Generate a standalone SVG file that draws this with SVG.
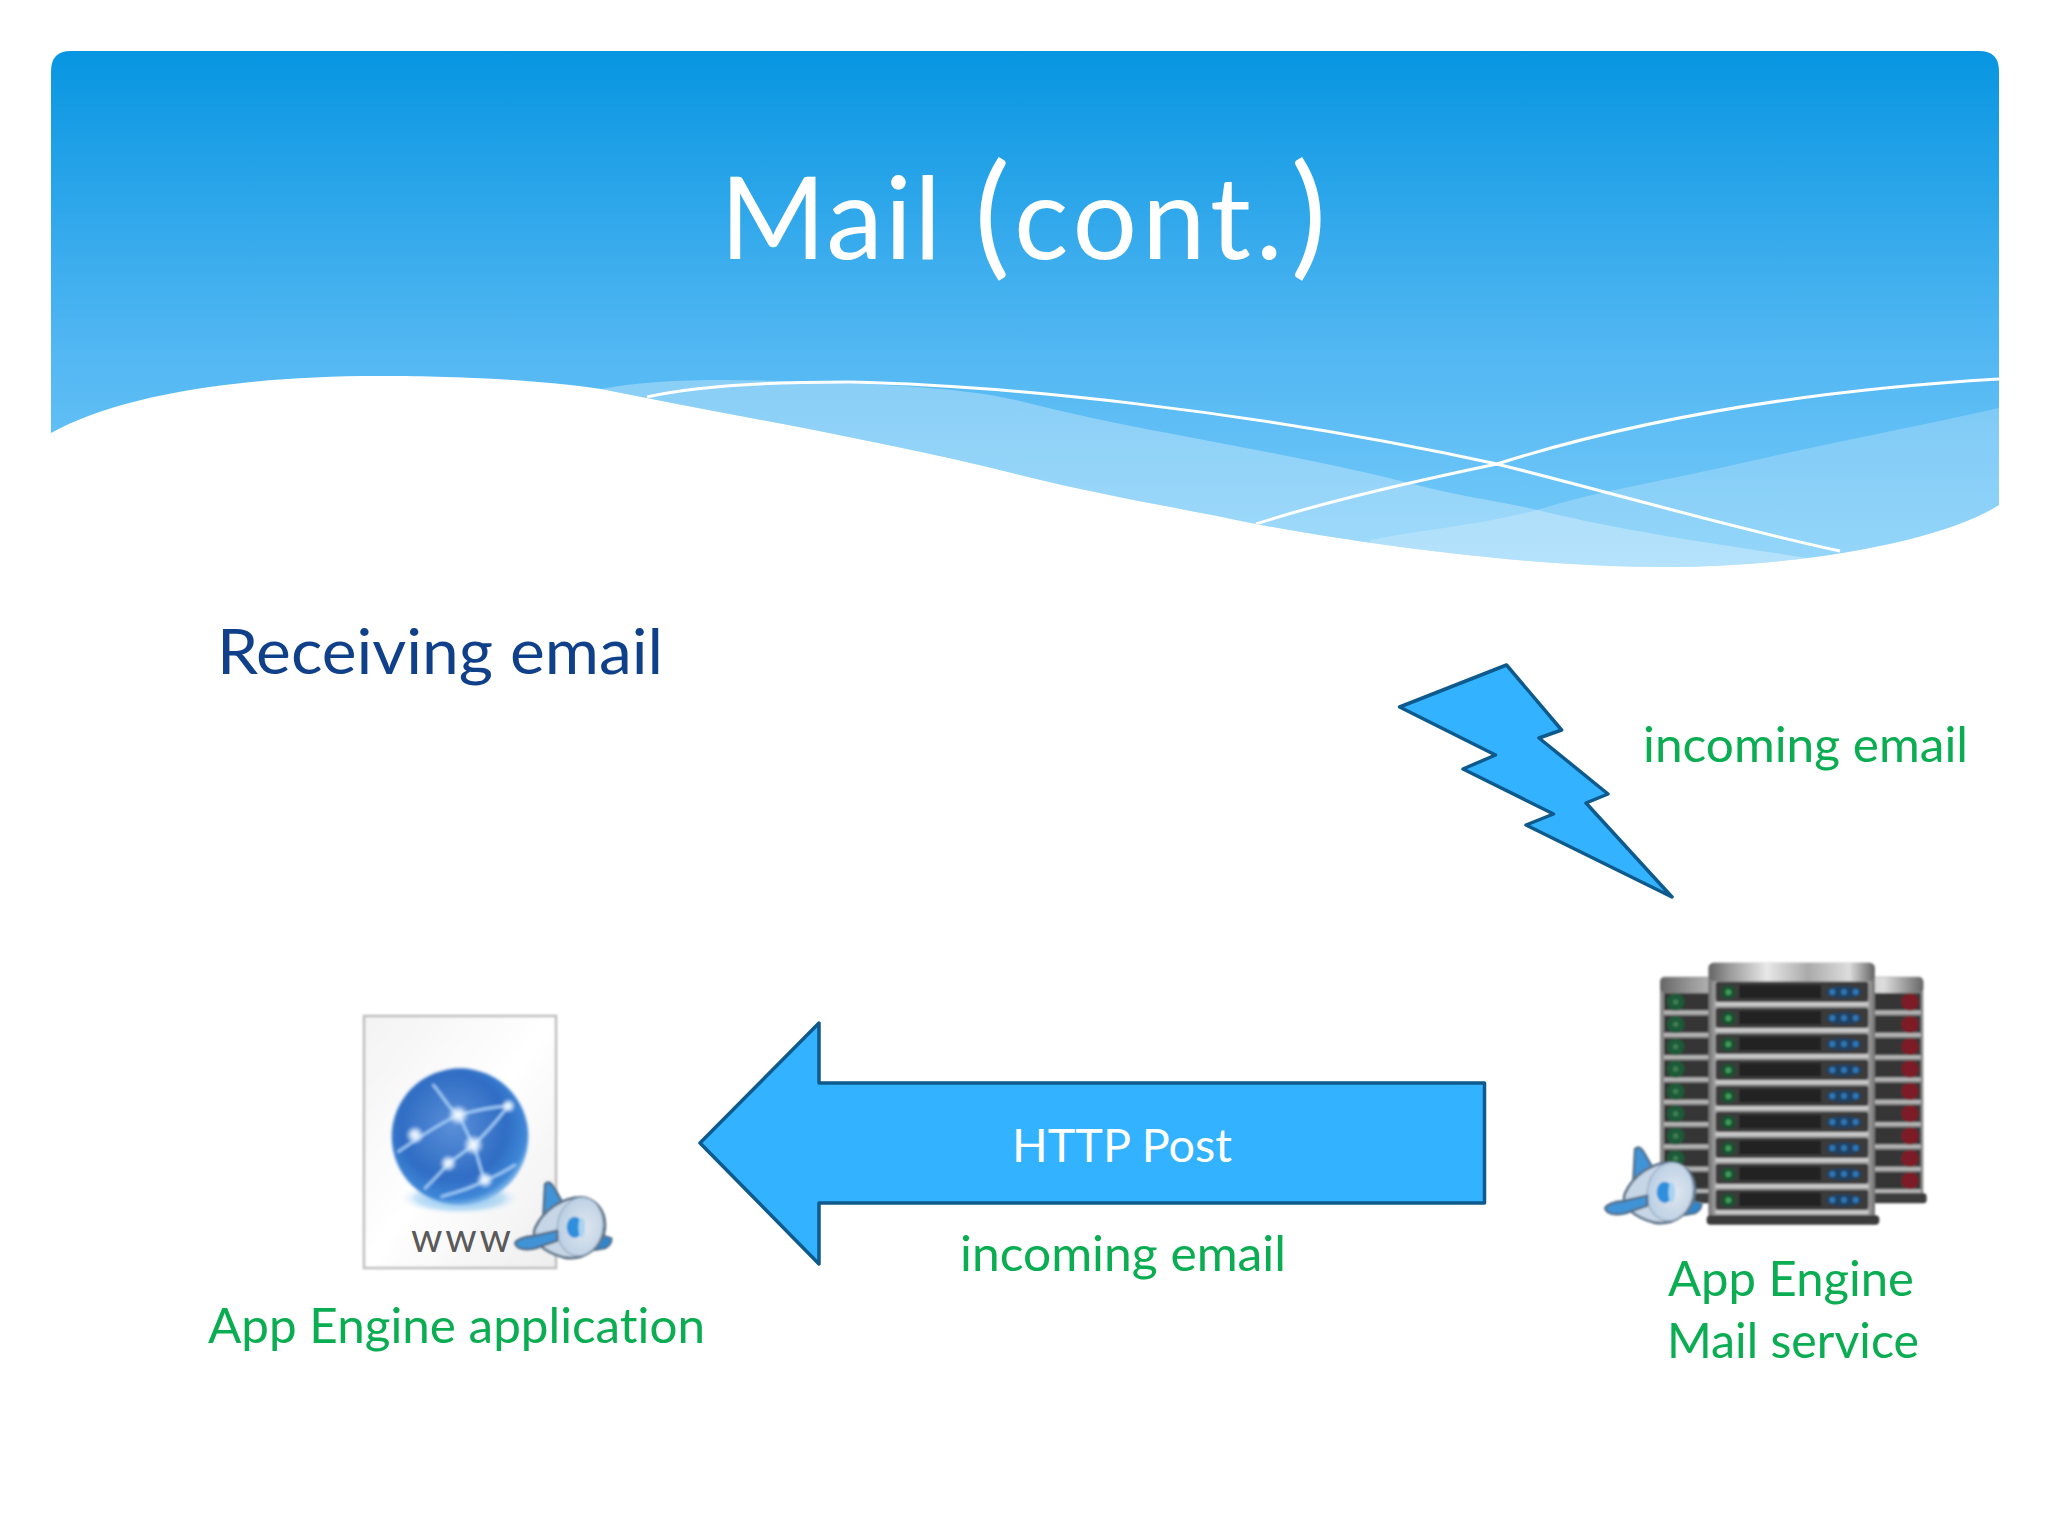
<svg xmlns="http://www.w3.org/2000/svg" xmlns:xlink="http://www.w3.org/1999/xlink" width="2048" height="1536" viewBox="0 0 2048 1536">
<style>
text{font-family:Lato,"Open Sans","Liberation Sans",sans-serif;font-variant-ligatures:none}
.g{fill:#0bad52;font-size:49px}
.shape{fill:#33b3ff;stroke:#0e5a8c;stroke-width:3.5;stroke-linejoin:round}
.wave{fill:none;stroke:#fff;stroke-width:3}
.led-b{fill:#2f78b8}
</style>
<defs>
<linearGradient id="sky" gradientUnits="userSpaceOnUse" x1="0" y1="51" x2="0" y2="570">
<stop offset="0" stop-color="#0795e1"/><stop offset=".56" stop-color="#50b6f2"/><stop offset="1" stop-color="#78cbf9"/>
</linearGradient>
<linearGradient id="metal" x1="0" y1="0" x2="1" y2="0">
<stop offset="0" stop-color="#666"/><stop offset=".12" stop-color="#999"/><stop offset=".35" stop-color="#e8e8e8"/><stop offset=".6" stop-color="#aaa"/><stop offset=".85" stop-color="#ddd"/><stop offset="1" stop-color="#666"/>
</linearGradient>
<linearGradient id="frame" x1="0" y1="0" x2="1" y2="0">
<stop offset="0" stop-color="#6f6f6f"/><stop offset=".04" stop-color="#a0a0a0"/><stop offset=".96" stop-color="#a0a0a0"/><stop offset="1" stop-color="#6f6f6f"/>
</linearGradient>
<linearGradient id="paper" x1="0" y1="0" x2="1" y2="1">
<stop offset="0" stop-color="#f3f3f3"/><stop offset=".5" stop-color="#fff"/><stop offset="1" stop-color="#eee"/>
</linearGradient>
<radialGradient id="globe" cx=".45" cy=".42" r=".6">
<stop offset="0" stop-color="#5a8fd8"/><stop offset=".65" stop-color="#2f6dc4"/><stop offset=".9" stop-color="#3f88d8"/><stop offset="1" stop-color="#8fc3ee"/>
</radialGradient>
<radialGradient id="spark"><stop offset="0" stop-color="#fff"/><stop offset=".45" stop-color="#e6f4ff" stop-opacity=".8"/><stop offset="1" stop-color="#cfe8ff" stop-opacity="0"/></radialGradient>
<radialGradient id="reflect"><stop offset="0" stop-color="#6db8ee"/><stop offset=".7" stop-color="#a5d2f3" stop-opacity=".7"/><stop offset="1" stop-color="#fff" stop-opacity="0"/></radialGradient>
<radialGradient id="engine" cx=".6" cy=".5" r=".6"><stop offset="0" stop-color="#dfe6ee"/><stop offset="1" stop-color="#b9cfe4"/></radialGradient>
<filter id="soft" x="-5%" y="-5%" width="110%" height="110%"><feGaussianBlur stdDeviation="1"/></filter>
<filter id="local" x="-5%" y="-5%" width="110%" height="110%"><feGaussianBlur stdDeviation="3.2"/></filter>
<filter id="globeBlur" x="-5%" y="-5%" width="110%" height="110%"><feGaussianBlur stdDeviation="5"/></filter>
<clipPath id="panel"><path id="panelShape" d="M51 71Q51 51 71 51H1979Q1999 51 1999 71V505C1940 542 1800 567 1664 567C1530 567 1370 545 1256 524C1180 508 1100 495 1024 476C880 440 740 417 601 389C530 378 430 376 379 376C240 376 120 395 51 433Z"/></clipPath>
<g id="plane">
<path d="M735 612Q748 600 760 620L788 668L730 705Z" fill="#3f93d6" stroke="#54708a" stroke-width="7" stroke-linejoin="round"/>
<path d="M905 765L935 775Q935 795 915 805L885 810Z" fill="#2f86cc" stroke="#54708a" stroke-width="6" stroke-linejoin="round"/>
<path d="M845 652C790 650 730 690 705 745C690 780 730 815 790 832C850 845 915 800 915 735C915 690 885 655 845 652Z" fill="#c6d6e6" stroke="#5f748a" stroke-width="8"/>
<ellipse cx="840" cy="740" rx="68" ry="88" fill="url(#engine)" stroke="#8fa3b8" stroke-width="3" transform="rotate(10 840 740)"/>
<ellipse cx="824" cy="742" rx="24" ry="32" fill="#2f8fdc"/>
<ellipse cx="845" cy="742" rx="10" ry="30" fill="#a8d3f2"/>
<path d="M645 790Q655 772 700 768L772 752L772 782L705 805Q655 815 645 790Z" fill="#3f93d6" stroke="#54708a" stroke-width="7" stroke-linejoin="round"/>
</g>
<g id="frontRow">
<rect x="407" y="0" width="458" height="60" rx="8" fill="#3a3a3a"/>
<rect x="478" y="10" width="245" height="40" fill="#242424"/>
<circle cx="445" cy="32" r="22" fill="#1c4f30"/><circle cx="445" cy="32" r="9" fill="#3f9a5a"/>
<ellipse cx="792" cy="32" rx="52" ry="19" fill="#23415f"/>
<circle cx="757" cy="31" r="9" class="led-b"/><circle cx="792" cy="31" r="9" class="led-b"/><circle cx="827" cy="31" r="9" class="led-b"/>
<rect x="407" y="63" width="458" height="9" fill="#cfcfcf"/>
</g>
<g id="backRow">
<rect x="252" y="0" width="770" height="50" fill="#353535"/>
<circle cx="287" cy="26" r="26" fill="#1f5a38"/><circle cx="287" cy="26" r="8" fill="#3f7f55"/>
<circle cx="990" cy="26" r="26" fill="#7d1a28"/>
<rect x="252" y="54" width="770" height="7" fill="#bdbdbd"/>
</g>
</defs>
<rect width="2048" height="1536" fill="#fff"/>

<g id="header">
<use xlink:href="#panelShape" href="#panelShape" fill="url(#sky)"/>
<g clip-path="url(#panel)">
<path d="M601 389C650 379 720 379 780 381C870 384 960 386 1024 402C1150 434 1280 450 1409 483C1460 497 1500 501 1537 510C1640 535 1730 545 1830 562L1830 600L601 600Z" fill="#fff" fill-opacity=".3"/>
<path d="M1999 408C1900 430 1820 445 1742 463C1670 480 1600 490 1537 510C1480 525 1420 530 1370 540L1370 600L1999 600Z" fill="#fff" fill-opacity=".22"/>
<path class="wave" d="M647 397C700 385 780 382 849 382C1000 385 1250 410 1497 464C1620 495 1740 530 1840 551"/>
<path class="wave" d="M1256 524C1330 500 1420 480 1497 464C1620 425 1780 392 1999 379"/>
</g>
<text x="720" y="259" font-size="114" fill="#fff" letter-spacing="2">Mail <tspan font-size="134" dy="2">(</tspan><tspan dy="-2" dx="2" letter-spacing="5">cont.</tspan><tspan font-size="134" dy="2" dx="3">)</tspan></text>
</g>

<text id="subtitle" x="217" y="674" font-size="61" fill="#0f4089" textLength="446" lengthAdjust="spacingAndGlyphs">Receiving email</text>

<g id="connectors">
<polygon class="shape" points="1506.5,665 1561.6,730 1539,738 1608,794 1586,803 1672,897 1526,825 1553.5,814 1463,769 1495.5,755 1399.6,707"/>
<polygon class="shape" points="700,1143 819,1023 819,1083 1484.5,1083 1484.5,1203 819,1203 819,1264"/>
<text x="1012" y="1162" font-size="46" fill="#fff" textLength="220" lengthAdjust="spacingAndGlyphs">HTTP Post</text>
<text class="g" x="1643" y="762" textLength="325" lengthAdjust="spacingAndGlyphs">incoming email</text>
<text class="g" x="960" y="1271" textLength="326" lengthAdjust="spacingAndGlyphs">incoming email</text>
</g>

<g id="app-node">
<rect x="364" y="1016" width="192" height="252" fill="url(#paper)" stroke="#bdbdbd" stroke-width="2.5" filter="url(#soft)"/>
<g transform="translate(300 980) scale(.33333)">
<g filter="url(#globeBlur)">
<ellipse cx="480" cy="655" rx="185" ry="50" fill="url(#reflect)"/>
<circle cx="480" cy="470" r="205" fill="url(#globe)"/>
<path d="M295 515C360 470 420 430 475 405C550 385 590 380 625 378M400 315C430 350 450 390 475 405C495 440 505 470 520 495C570 450 600 410 625 378M520 495C535 530 540 570 555 600M375 625C410 590 430 570 445 550C480 525 500 510 520 495M425 650C470 635 520 625 555 600C590 590 620 570 645 555" fill="none" stroke="#a8d4fb" stroke-width="7" stroke-linecap="round"/>
<circle cx="475" cy="405" r="32" fill="url(#spark)"/><circle cx="345" cy="465" r="28" fill="url(#spark)"/>
<circle cx="520" cy="495" r="32" fill="url(#spark)"/><circle cx="445" cy="550" r="26" fill="url(#spark)"/>
<circle cx="555" cy="600" r="26" fill="url(#spark)"/><circle cx="625" cy="378" r="22" fill="url(#spark)"/>
</g>
</g>
<text x="411" y="1252" font-size="40" fill="#5a5a5a" textLength="100" lengthAdjust="spacing">www</text>
<use xlink:href="#plane" href="#plane" transform="translate(300 980) scale(.33333)" filter="url(#local)"/>
<text class="g" x="208" y="1343" textLength="497" lengthAdjust="spacingAndGlyphs">App Engine application</text>
</g>

<g id="mail-node">
<g transform="translate(1580 940) scale(.33333)" filter="url(#local)">
<rect x="240" y="110" width="790" height="670" rx="14" fill="#8a8a8a"/>
<rect x="240" y="112" width="790" height="46" rx="14" fill="url(#metal)"/>
<use xlink:href="#backRow" href="#backRow" y="160"/><use xlink:href="#backRow" href="#backRow" y="227"/><use xlink:href="#backRow" href="#backRow" y="294"/>
<use xlink:href="#backRow" href="#backRow" y="361"/><use xlink:href="#backRow" href="#backRow" y="428"/><use xlink:href="#backRow" href="#backRow" y="495"/>
<use xlink:href="#backRow" href="#backRow" y="562"/><use xlink:href="#backRow" href="#backRow" y="629"/><use xlink:href="#backRow" href="#backRow" y="696"/>
<rect x="240" y="760" width="800" height="30" rx="10" fill="#3c3c3c"/>
<rect x="385" y="68" width="500" height="770" rx="16" fill="url(#frame)"/>
<rect x="388" y="68" width="494" height="56" rx="14" fill="url(#metal)"/>
<use xlink:href="#frontRow" href="#frontRow" y="125"/><use xlink:href="#frontRow" href="#frontRow" y="203"/><use xlink:href="#frontRow" href="#frontRow" y="281"/>
<use xlink:href="#frontRow" href="#frontRow" y="359"/><use xlink:href="#frontRow" href="#frontRow" y="437"/><use xlink:href="#frontRow" href="#frontRow" y="515"/>
<use xlink:href="#frontRow" href="#frontRow" y="593"/><use xlink:href="#frontRow" href="#frontRow" y="671"/><use xlink:href="#frontRow" href="#frontRow" y="749"/>
<rect x="380" y="826" width="518" height="28" rx="12" fill="#3a3a3a"/>
</g>
<use xlink:href="#plane" href="#plane" transform="translate(1390 945) scale(.33333)" filter="url(#local)"/>
<text class="g" x="1668" y="1296" textLength="246" lengthAdjust="spacingAndGlyphs">App Engine</text>
<text class="g" x="1667" y="1358" textLength="252" lengthAdjust="spacingAndGlyphs">Mail service</text>
</g>
</svg>
